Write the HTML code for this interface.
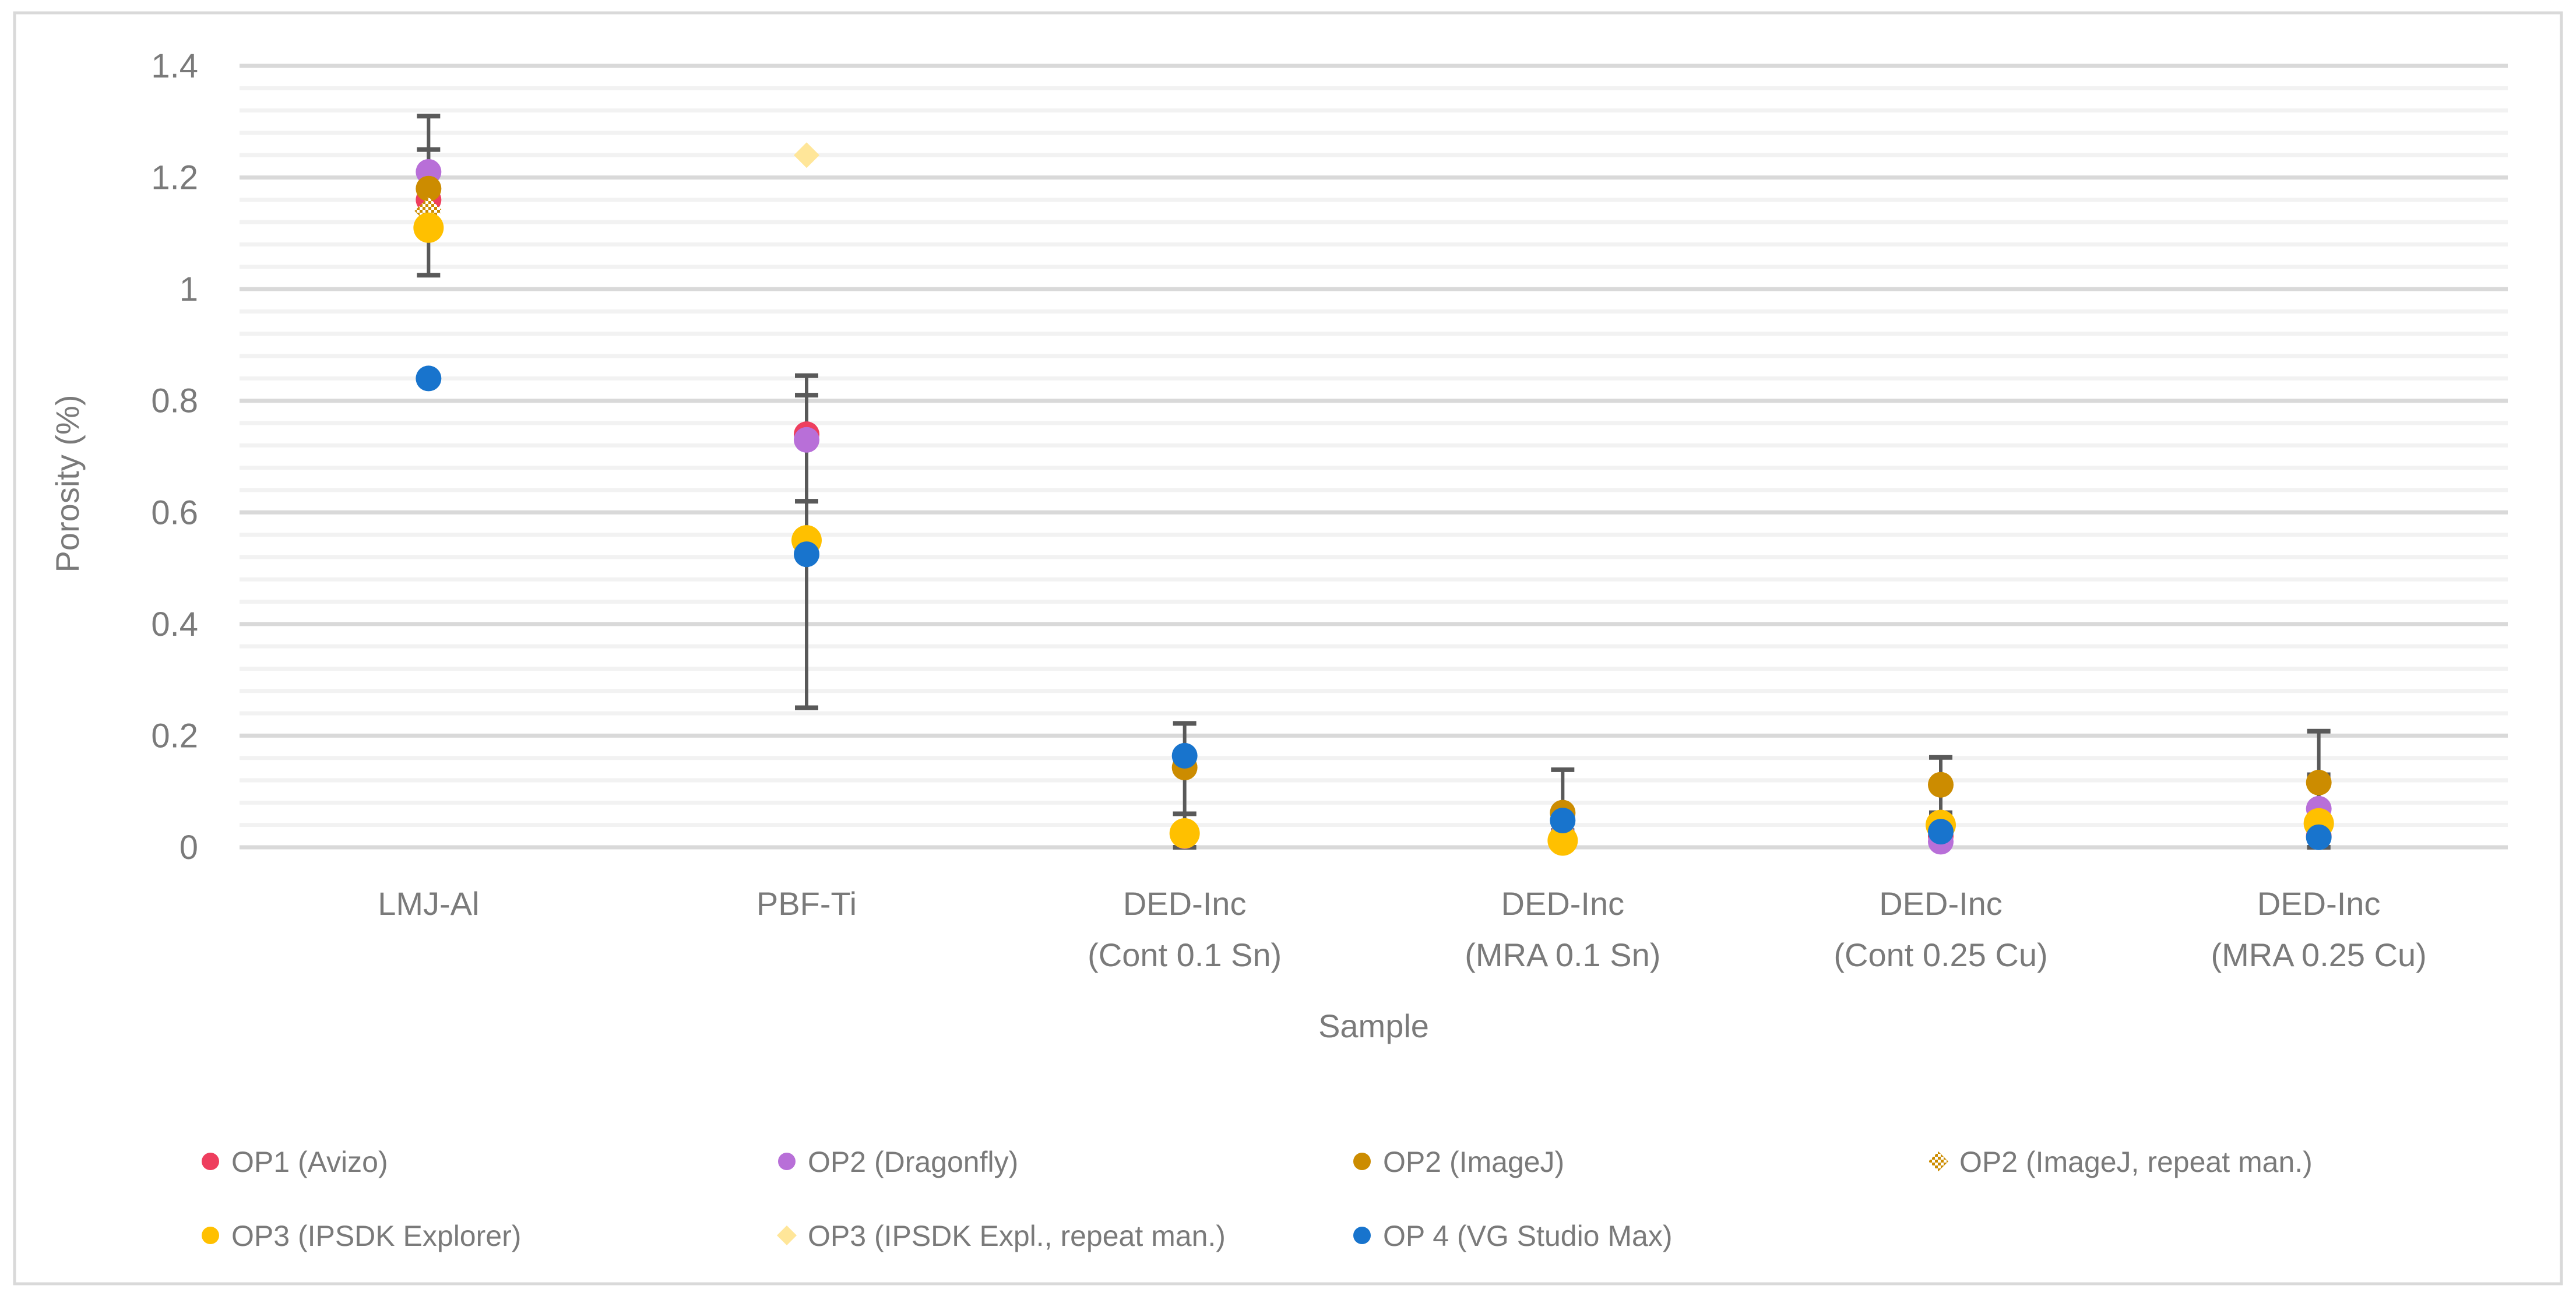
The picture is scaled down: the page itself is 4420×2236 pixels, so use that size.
<!DOCTYPE html>
<html><head><meta charset="utf-8"><style>
html,body{margin:0;padding:0;background:#fff;}
svg{display:block;font-family:"Liberation Sans",sans-serif;}
</style></head><body>
<svg id="chart" width="4420" height="2236" viewBox="0 0 4420 2236">
<defs>
<pattern id="chk" width="10" height="10" patternUnits="userSpaceOnUse">
<rect width="10" height="10" fill="#fff"/><rect width="5" height="5" fill="#cc8c00"/><rect x="5" y="5" width="5" height="5" fill="#cc8c00"/>
</pattern>
</defs>
<rect x="25" y="22" width="4370" height="2181" fill="#fff" stroke="#d9d9d9" stroke-width="5"/>
<g id="grid"></g>
<g id="yticks"></g>
<g id="xlabels"></g>
<g id="errs"></g>
<g id="marks"></g>
<text x="135" y="830" transform="rotate(-90 135 830)" text-anchor="middle" font-size="56" fill="#7a7a7a">Porosity (%)</text>
<text x="2357" y="1780" text-anchor="middle" font-size="56" fill="#7a7a7a">Sample</text>
<g id="legend"></g>
</svg>
<script>
const categories = [["LMJ-Al"],["PBF-Ti"],["DED-Inc","(Cont 0.1 Sn)"],["DED-Inc","(MRA 0.1 Sn)"],["DED-Inc","(Cont 0.25 Cu)"],["DED-Inc","(MRA 0.25 Cu)"]];
const yTicks = [0,0.2,0.4,0.6,0.8,1,1.2,1.4];
const yTickLabels = ["0","0.2","0.4","0.6","0.8","1","1.2","1.4"];
const seriesNames = ["OP1 (Avizo)","OP2  (Dragonfly)","OP2 (ImageJ)","OP2 (ImageJ, repeat man.)","OP3 (IPSDK Explorer)","OP3 (IPSDK  Expl., repeat man.)","OP 4 (VG Studio Max)"];
const op1 = [1.16,0.74,0.02,0.02,0.02,0.02];
const op2Dragonfly = [1.21,0.73,0.02,0.02,0.01,0.069];
const op2ImageJ = [1.18,null,0.143,0.062,0.112,0.116];
const op2ImageJRepeat = [1.14,null,null,null,null,null];
const op3Ipsdk = [1.11,0.55,0.025,0.012,0.04,0.043];
const op3IpsdkRepeat = [null,1.24,null,null,null,null];
const op4Vg = [0.84,0.525,0.164,0.048,0.028,0.018];
const err1Low = [1.025,0.25,0.06,0.03,0.062,0.0];
const err1High = [1.31,0.845,0.222,0.139,0.161,0.208];
const err2Low = [1.16,0.62,0.0,null,null,0.0];
const err2High = [1.25,0.81,0.06,null,null,0.13];

const NS="http://www.w3.org/2000/svg";
const X0=411,X1=4303,Y0=1454,Y1=113,YMAX=1.4;
const band=(X1-X0)/categories.length;
const xs=i=>X0+band*(i+0.5);
const ys=v=>Y0-(v/YMAX)*(Y0-Y1);
function mk(t,a,p){const e=document.createElementNS(NS,t);for(const k in a)e.setAttribute(k,a[k]);p.appendChild(e);return e;}
const grid=document.getElementById('grid');
for(let k=0;k<=35;k++){const v=k*0.04;const major=k%5===0;
 const l=mk('line',{x1:X0,x2:X1,y1:ys(v),y2:ys(v),stroke:major?'#d9d9d9':'#f2f2f2','stroke-width':7},grid);
 
 }
const yt=document.getElementById('yticks');
yTicks.forEach((v,i)=>{const t=mk('text',{x:340,y:ys(v)+20,'text-anchor':'end','font-size':58,fill:'#7a7a7a'},yt);t.textContent=yTickLabels[i];
 
 });
const xl=document.getElementById('xlabels');
categories.forEach((c,i)=>{c.forEach((s,j)=>{const t=mk('text',{x:xs(i),y:1570+j*88,'text-anchor':'middle','font-size':56,fill:'#7a7a7a'},xl);t.textContent=s;
 
 });});
const eg=document.getElementById('errs');
function ebar(lo,hi,i){if(lo==null||hi==null)return;const x=xs(i);
 const g=mk('g',{stroke:'#595959','stroke-width':6},eg);
 
 
 mk('line',{x1:x,x2:x,y1:ys(lo),y2:ys(hi)},g);
 mk('line',{x1:x-20,x2:x+20,y1:ys(lo),y2:ys(lo),'stroke-width':8},g);
 mk('line',{x1:x-20,x2:x+20,y1:ys(hi),y2:ys(hi),'stroke-width':8},g);}
categories.forEach((c,i)=>{ebar(err1Low[i],err1High[i],i);ebar(err2Low[i],err2High[i],i);});
const mg=document.getElementById('marks');
const styles=[
 {d:op1,c:'#ee3e5e',r:22,s:'circle'},{d:op2Dragonfly,c:'#b86fd8',r:22,s:'circle'},
 {d:op2ImageJ,c:'#cc8c00',r:22,s:'circle'},{d:op2ImageJRepeat,c:'url(#chk)',r:24,s:'diamond'},
 {d:op3Ipsdk,c:'#ffc000',r:26,s:'circle'},{d:op3IpsdkRepeat,c:'#ffe699',r:22,s:'diamond'},
 {d:op4Vg,c:'#1874cd',r:22,s:'circle'}];
function shape(s,x,y,r,fill,p){if(s==='circle')return mk('circle',{cx:x,cy:y,r:r,fill:fill},p);
 return mk('polygon',{points:`${x},${y-r} ${x+r},${y} ${x},${y+r} ${x-r},${y}`,fill:fill},p);}
styles.forEach((st,si)=>{st.d.forEach((v,i)=>{if(v==null)return;const e=shape(st.s,xs(i),ys(v),st.r,st.c,mg);
 
 });});
const lg=document.getElementById('legend');
const lx=[361,1350,2337,3326],ly=[1993,2120];
seriesNames.forEach((n,i)=>{const x=lx[i%4],y=ly[Math.floor(i/4)];
 const g=mk('g',{},lg);
 
 
 const st=styles[i];shape(st.s,x,y,st.s==='circle'?15:17,st.s==='diamond'&&i===3?'url(#chk)':st.c,g);
 const t=mk('text',{x:x+36,y:y+18,'font-size':50,fill:'#7a7a7a'},g);t.textContent=n;});
</script>
</body></html>
